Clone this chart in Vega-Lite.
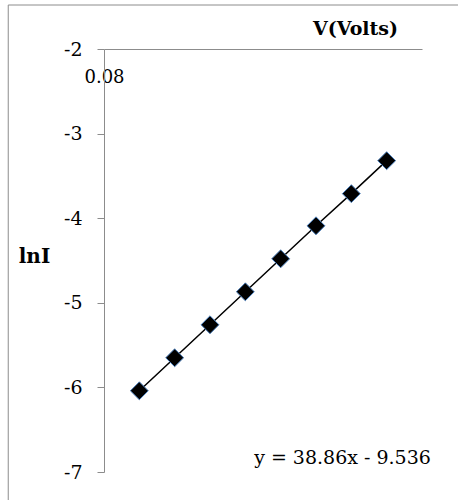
{
  "$schema": "https://vega.github.io/schema/vega-lite/v6.json",
  "width": 318,
  "height": 423,
  "autosize": "none",
  "padding": {"left": 104, "top": 49, "right": 36, "bottom": 28},
  "background": "white",
  "config": {
    "view": {"stroke": null},
    "font": "DejaVu Serif",
    "axis": {"grid": false, "labelColor": "black", "titleColor": "black", "domainColor": "#8c8c8c", "tickColor": "#8c8c8c", "labelFont": "DejaVu Serif", "titleFont": "DejaVu Serif"}
  },
  "datasets": {
    "pts": [
      {"V": 0.09, "lnI": -6.04},
      {"V": 0.10, "lnI": -5.65},
      {"V": 0.11, "lnI": -5.26},
      {"V": 0.12, "lnI": -4.87},
      {"V": 0.13, "lnI": -4.48},
      {"V": 0.14, "lnI": -4.09},
      {"V": 0.15, "lnI": -3.71},
      {"V": 0.16, "lnI": -3.32}
    ]
  },
  "encoding": {
    "x": {
      "field": "V", "type": "quantitative",
      "scale": {"domain": [0.08, 0.17], "nice": false, "zero": false},
      "axis": {
        "orient": "bottom", "offset": -423, "values": [0.08], "tickSize": 0,
        "labelExpr": "'' + datum.value", "labelFontSize": 18, "labelPadding": 19, "labelFlush": false,
        "title": "V(Volts)", "titleFontSize": 19, "titleFontWeight": "bold",
        "titleX": 251, "titleY": -21, "titleBaseline": "middle", "titleAlign": "center"
      }
    },
    "y": {
      "field": "lnI", "type": "quantitative",
      "scale": {"domain": [-7, -2], "nice": false, "zero": false},
      "axis": {
        "orient": "left", "values": [-7, -6, -5, -4, -3, -2], "tickSize": 7,
        "labelExpr": "'' + datum.value", "labelFontSize": 19, "labelPadding": 15,
        "title": "lnI", "titleAngle": 0, "titleFontSize": 20, "titleFontWeight": "bold",
        "titleX": -70, "titleY": 207, "titleBaseline": "middle", "titleAlign": "center"
      }
    }
  },
  "layer": [
    {
      "data": {"values": [
        {"V": 0.0529, "lnI": -1.48, "V2": 0.2, "lnI2": -1.48},
        {"V": 0.0529, "lnI": -1.48, "V2": 0.0529, "lnI2": -7.5}
      ]},
      "mark": {"type": "rule", "color": "#8c8c8c", "strokeWidth": 1, "clip": false},
      "encoding": {
        "x2": {"field": "V2"},
        "y2": {"field": "lnI2"}
      }
    },
    {
      "data": {"name": "pts"},
      "mark": {"type": "line", "color": "black", "strokeWidth": 1.5}
    },
    {
      "data": {"name": "pts"},
      "mark": {"type": "point", "shape": "diamond", "filled": true, "fill": "black", "stroke": "#4a7ebb", "strokeWidth": 1, "size": 320, "opacity": 1}
    },
    {
      "data": {"values": [{"V": 0.1475, "lnI": -6.835, "label": "y = 38.86x - 9.536"}]},
      "mark": {"type": "text", "fontSize": 19, "align": "center", "baseline": "middle", "color": "black", "font": "DejaVu Serif"},
      "encoding": {"text": {"field": "label"}}
    }
  ]
}
